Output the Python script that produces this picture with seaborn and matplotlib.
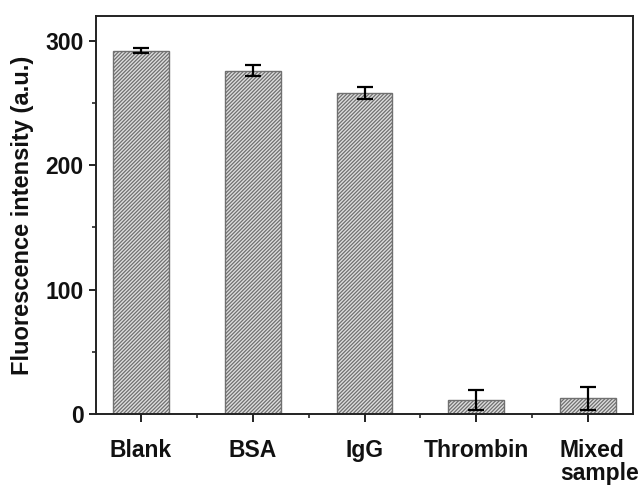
import matplotlib
matplotlib.use("Agg")
import matplotlib.pyplot as plt
import matplotlib.transforms as mtransforms
from matplotlib.ticker import MultipleLocator, FixedLocator
import seaborn as sns
import pandas as pd
import numpy as np

categories = ["Blank", "BSA", "IgG", "Thrombin", "Mixed\nsample"]
values = [292, 276, 258, 11.5, 12.5]
errors = [2.0, 4.5, 5.0, 8.0, 9.5]

sns.set_theme(style="ticks")
plt.rcParams['font.family'] = ['Liberation Sans', 'DejaVu Sans']
plt.rcParams['hatch.color'] = '#7a7a7a'
plt.rcParams['hatch.linewidth'] = 0.9

df = pd.DataFrame({"cat": categories, "val": values})

fig = plt.figure(figsize=(6.44, 4.88), dpi=100)
ax = fig.add_axes([96/644, (488-414)/488, (633-96)/644, (414-16)/488])

sns.barplot(data=df, x="cat", y="val", ax=ax, width=0.5, color="#dcdcdc",
            edgecolor="#707070", linewidth=1.0, errorbar=None)
for p in ax.patches:
    p.set_hatch("/////////")
    p.set_facecolor("#dedede")

ax.errorbar(np.arange(len(values)), values, yerr=errors, fmt="none",
            ecolor="black", elinewidth=1.6, capsize=6, capthick=1.6)

ax.set_xlim(-0.4, 4.4)
ax.set_ylim(0, 320)
ax.yaxis.set_major_locator(MultipleLocator(100))
ax.yaxis.set_minor_locator(MultipleLocator(50))
ax.xaxis.set_minor_locator(FixedLocator([0.5, 1.5, 2.5, 3.5]))

ax.set_xlabel("")
ax.set_ylabel("Fluorescence intensity (a.u.)", fontsize=17, fontweight="bold",
              labelpad=8, color="#111111")

for s in ax.spines.values():
    s.set_visible(True)
    s.set_linewidth(1.4)
    s.set_color("#222222")

ax.tick_params(axis="both", which="major", labelsize=16.5, width=1.4, color="#222222",
               labelcolor="#111111")
ax.tick_params(axis="y", which="major", length=5, pad=4)
ax.tick_params(axis="y", which="minor", length=3, width=1.2)
ax.tick_params(axis="x", which="major", length=6, pad=12)
ax.tick_params(axis="x", which="minor", length=3, width=1.2)

for lab in ax.get_xticklabels() + ax.get_yticklabels():
    lab.set_fontweight("bold")

xl = ax.get_xticklabels()
xl[-1].set_multialignment("left")
xl[-1].set_linespacing(1.0)
xl[-1].set_transform(xl[-1].get_transform() + mtransforms.ScaledTranslation(11/100, 0, fig.dpi_scale_trans))

fig.savefig("out.png", dpi=100)
